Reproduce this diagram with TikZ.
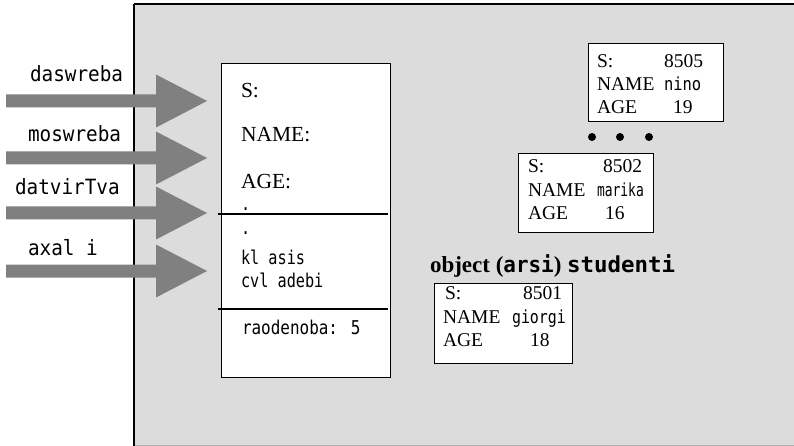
\documentclass[tikz,border=0pt]{standalone}
\usepackage{fontspec}
\usepackage{graphicx}
\setmainfont{Liberation Serif}
\newfontfamily\monof{DejaVu Sans Mono}
\newcommand{\geo}[3]{\scalebox{#1}[1]{\fontsize{#2}{#2}\selectfont\monof #3}}
\newcommand{\ser}[2]{{\fontsize{#1}{#1}\selectfont #2}}
\definecolor{bggray}{RGB}{220,220,220}
\definecolor{arrowgray}{RGB}{128,128,128}
\definecolor{edgegray}{RGB}{176,176,176}
\begin{document}
\begin{tikzpicture}[x=1pt,y=-1pt,
  txt/.style={inner sep=0pt,outer sep=0pt,anchor=base west},
  txtr/.style={inner sep=0pt,outer sep=0pt,anchor=base east},
  rec/.style={draw=black,fill=white,line width=1.3pt,inner sep=0pt,anchor=north west},
  arrowfill/.style={fill=arrowgray},
  divider/.style={line width=1.2pt},
  dotmark/.style={circle,fill=black,inner sep=0pt,minimum size=8pt}]
\useasboundingbox (0,0) rectangle (794,446);
% background panel
\fill[bggray] (134,4) rectangle (794,446);
\draw[edgegray,line width=1pt] (134,445.5) -- (794,445.5);
\draw[line width=1.3pt] (794,4) -- (134,4);
\draw[line width=2pt] (134,4) -- (134,446);
% class box
\node[rec,minimum width=169pt,minimum height=314pt] (cls) at (221,63) {};
\coordinate (d1l) at (218,214); \coordinate (d1r) at (388,214);
\coordinate (d2l) at (218,309); \coordinate (d2r) at (388,309);
\draw[divider] (d1l) -- (d1r);
\draw[divider] (d2l) -- (d2r);
\node[txt] (fs) at (241,98) {\ser{21.5}{S:}};
\node[txt] (fn) at (241,142) {\ser{21.5}{NAME:}};
\node[txt] (fa) at (241,189) {\ser{21.5}{AGE:}};
\node[txt] (p1) at (241,211) {\geo{0.8}{19}{.}};
\node[txt] (p2) at (241,234) {\geo{0.8}{19}{.}};
\node[txt] (m1) at (241,264) {\geo{0.8}{19}{kl asis}};
\node[txt] (m2) at (241,287) {\geo{0.8}{19}{cvl adebi}};
\node[txt] (cnt) at (242,334) {\geo{0.84}{19}{raodenoba: 5}};
% arrows and labels
\foreach \yc in {101,158,213,271}{
  \fill[arrowfill] (6,{\yc-6.5}) -- (156,{\yc-6.5}) -- (156,{\yc-26.5}) -- (207,\yc)
    -- (156,{\yc+26.5}) -- (156,{\yc+6.5}) -- (6,{\yc+6.5}) -- cycle;
}
\node[txt] (l1) at (30,82) {\geo{0.92}{21}{daswreba}};
\node[txt] (l2) at (28,141.5) {\geo{0.92}{21}{moswreba}};
\node[txt] (l3) at (15,195) {\geo{0.92}{21}{datvirTva}};
\node[txt] (l4) at (28,255) {\geo{0.92}{21}{axal i}};
% object 8505
\node[rec,minimum width=135pt,minimum height=78pt] (o3) at (588,43) {};
\node[txt] (o3s) at (597,68) {\ser{19.5}{S:}};
\node[txtr] (o3sv) at (703,68) {\ser{19.5}{8505}};
\node[txt] (o3n) at (597,91) {\ser{19.5}{NAME}};
\node[txt] (o3nv) at (664,91) {\geo{0.86}{18}{nino}};
\node[txt] (o3a) at (597,114) {\ser{19.5}{AGE}};
\node[txt] (o3av) at (673,114) {\ser{19.5}{19}};
% dots
\node[dotmark] (dt1) at (592,137) {};
\node[dotmark] (dt2) at (620,137) {};
\node[dotmark] (dt3) at (649,137) {};
% object 8502
\node[rec,minimum width=135pt,minimum height=79pt] (o2) at (518,153) {};
\node[txt] (o2s) at (528,173) {\ser{19.5}{S:}};
\node[txtr] (o2sv) at (642,173) {\ser{19.5}{8502}};
\node[txt] (o2n) at (528,196.5) {\ser{19.5}{NAME}};
\node[txt] (o2nv) at (597,196.5) {\geo{0.72}{18}{marika}};
\node[txt] (o2a) at (528,220) {\ser{19.5}{AGE}};
\node[txt] (o2av) at (605,220) {\ser{19.5}{16}};
% title
\node[txt] (ttl) at (430,272) {\ser{23}{\textbf{object} \textbf{(}\geo{0.95}{22}{\bfseries arsi}\textbf{)} \geo{1.02}{22}{\bfseries studenti}}};
% object 8501
\node[rec,minimum width=138pt,minimum height=80pt] (o1) at (434,283) {};
\node[txt] (o1s) at (445,299.5) {\ser{19.5}{S:}};
\node[txtr] (o1sv) at (562,299.5) {\ser{19.5}{8501}};
\node[txt] (o1n) at (443,323) {\ser{19.5}{NAME}};
\node[txt] (o1nv) at (512,323) {\geo{0.83}{18}{giorgi}};
\node[txt] (o1a) at (443,346) {\ser{19.5}{AGE}};
\node[txt] (o1av) at (530,346) {\ser{19.5}{18}};
\end{tikzpicture}
\end{document}
